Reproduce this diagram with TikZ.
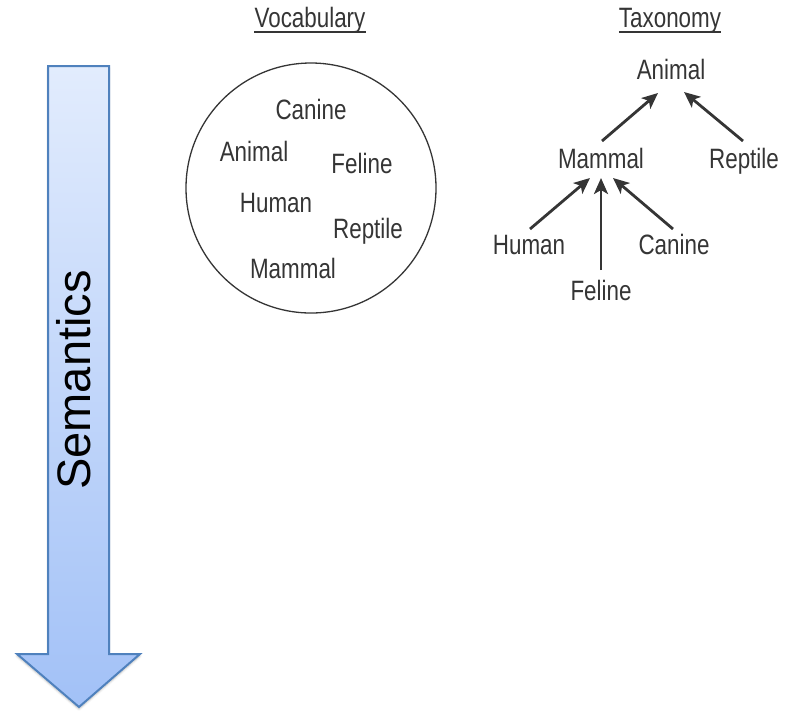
\documentclass[tikz,border=0pt]{standalone}
\usepackage{fontspec}
\setmainfont{Liberation Sans}
\newfontfamily\condfont[FakeStretch=0.8]{Liberation Sans}
\usetikzlibrary{arrows.meta,calc,shadows.blur}
\definecolor{txtgray}{HTML}{353535}
\definecolor{arrowtop}{HTML}{E2ECFD}
\definecolor{arrowbot}{HTML}{A2C1F7}
\definecolor{arrowedge}{HTML}{4F81BD}
\tikzset{
  lbl/.style={font=\condfont\fontsize{28}{30}\selectfont, text=txtgray, inner sep=0pt, anchor=base},
  arr/.style={draw=txtgray, line width=2.8pt, -{Stealth[length=16pt,width=14pt,inset=4pt]}},
  ring/.style={draw=txtgray, line width=1.3pt},
  uline/.style={draw=txtgray, line width=1.2pt}
}
\begin{document}
\begin{tikzpicture}[x=1pt,y=-1pt]
\useasboundingbox (0,0) rectangle (792,716);
% big arrow
\shade[top color=arrowtop, bottom color=arrowbot, draw=arrowedge, line width=2pt, line join=miter,
  blur shadow={shadow xshift=0pt, shadow yshift=-2pt, shadow blur steps=6, shadow opacity=25}]
  (48,66) -- (109,66) -- (109,654) -- (140,654) -- (79,707) -- (17,654) -- (48,654) -- cycle;
\node[rotate=90, anchor=base, inner sep=0pt, font=\fontsize{47}{50}\selectfont, text=black] (sem) at (90,380) {Semantics};
% titles
\node[lbl] (voc) at (310,27) {Vocabulary};
\draw[uline] ($(voc.base west)+(0,5)$) -- ($(voc.base east)+(0,5)$);
\node[lbl] (tax) at (670,27) {Taxonomy};
\draw[uline] ($(tax.base west)+(0,5)$) -- ($(tax.base east)+(0,5)$);
% vocabulary circle
\node[ring, circle, minimum size=250pt, inner sep=0pt] (circ) at (311,188) {};
\node[lbl] (vcanine) at (311,119) {Canine};
\node[lbl] (vanimal) at (254,161) {Animal};
\node[lbl] (vfeline) at (362,173) {Feline};
\node[lbl] (vhuman) at (276,212) {Human};
\node[lbl] (vreptile) at (368,238) {Reptile};
\node[lbl] (vmammal) at (293,278) {Mammal};
% taxonomy
\node[lbl] (animal) at (671,79) {Animal};
\node[lbl] (mammal) at (601,168) {Mammal};
\node[lbl] (reptile) at (744,168) {Reptile};
\node[lbl] (human) at (529,254) {Human};
\node[lbl] (canine) at (674,254) {Canine};
\node[lbl] (feline) at (601,300) {Feline};
\draw[arr] ($(mammal.base)+(1,-27)$) -- ($(animal.base)+(-13,14)$);
\draw[arr] ($(reptile.base)+(-1,-27)$) -- ($(animal.base)+(13,13)$);
\draw[arr] ($(human.base)+(1,-25)$) -- ($(mammal.base)+(-11,10)$);
\draw[arr] ($(feline.base)+(0,-30)$) -- ($(mammal.base)+(0,10)$);
\draw[arr] ($(canine.base)+(-1,-25)$) -- ($(mammal.base)+(12,10)$);
\end{tikzpicture}
\end{document}
